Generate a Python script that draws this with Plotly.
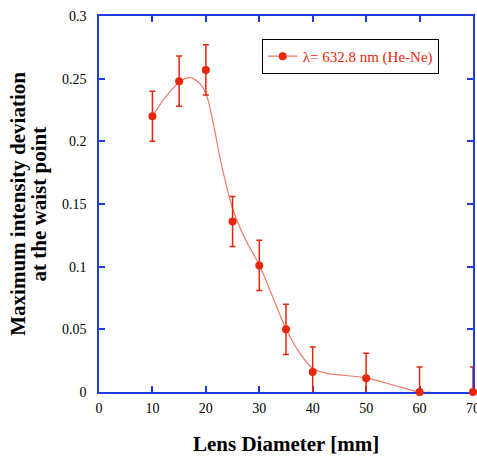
import plotly.graph_objects as go

# Measured data (lens diameter in mm, max intensity deviation)
diameter = [10, 15, 20, 25, 30, 35, 40, 50, 60, 70]
deviation = [0.220, 0.248, 0.257, 0.136, 0.101, 0.050, 0.016, 0.011, 0.0, 0.0]
error = [0.02, 0.02, 0.02, 0.02, 0.02, 0.02, 0.02, 0.02, 0.02, 0.02]

# Smooth fit curve
curve_x = [10, 12.6, 15.1, 17.0, 18.9, 20.1, 21.4, 22.6, 23.9, 25.1, 27.3, 30.1,
           32.6, 35.1, 37.6, 40.0, 42.6, 45.0, 50.0, 55.0, 60.0, 62.0]
curve_y = [0.220, 0.236, 0.2476, 0.2508, 0.246, 0.237, 0.2144, 0.1877, 0.1638,
           0.1452, 0.1226, 0.1005, 0.0748, 0.0495, 0.031, 0.019, 0.0149, 0.0136,
           0.0112, 0.0056, 0.0, 0.0]

legend_label = "λ= 632.8 nm (He-Ne)"
x_title = "Lens Diameter [mm]"
y_title_lines = ["Maximum intensity deviation", "at the waist point"]

RED = "rgb(232,38,10)"
LINE = "rgb(242,120,100)"
BLUE = "rgb(30,60,225)"
FONT = "Liberation Serif"

fig = go.Figure()
fig.add_trace(go.Scatter(x=curve_x, y=curve_y, mode="lines",
                         line=dict(color=LINE, width=1.2, shape="spline"),
                         showlegend=False, hoverinfo="skip"))
fig.add_trace(go.Scatter(x=diameter, y=deviation, mode="markers",
                         marker=dict(color=RED, size=8),
                         error_y=dict(type="data", array=error, color=RED,
                                      thickness=1.5, width=3),
                         cliponaxis=False, showlegend=False))
fig.add_trace(go.Scatter(x=[None], y=[None], mode="lines+markers",
                         name=legend_label,
                         line=dict(color=LINE, width=1.2),
                         marker=dict(color=RED, size=8)))

axis_common = dict(showline=True, linecolor=BLUE, linewidth=1.5, mirror="ticks",
                   ticks="inside", tickcolor=BLUE, tickwidth=1.5, ticklen=6,
                   showgrid=False, zeroline=False, layer="below traces",
                   automargin=False, ticklabeloverflow="allow",
                   tickfont=dict(family=FONT, size=14, color="black"))

fig.update_xaxes(range=[0, 70], dtick=10, ticklabelstandoff=2, **axis_common)
fig.update_yaxes(range=[0, 0.3], dtick=0.05, ticklabelstandoff=8, **axis_common)

fig.add_annotation(text="<b>%s</b>" % x_title, xref="paper", yref="paper",
                   x=0.5, y=-0.1383, xanchor="center", yanchor="middle",
                   showarrow=False,
                   font=dict(family=FONT, size=21, color="black"))
for line_text, xpos in zip(y_title_lines, [-0.2163, -0.161]):
    fig.add_annotation(text="<b>%s</b>" % line_text, xref="paper", yref="paper",
                       x=xpos, y=0.501, xanchor="center", yanchor="middle",
                       textangle=-90, showarrow=False,
                       font=dict(family=FONT, size=21, color="black"))

fig.update_layout(
    width=477, height=456,
    margin=dict(l=99, r=3.5, t=16, b=64),
    plot_bgcolor="white", paper_bgcolor="white",
    legend=dict(x=0.435, y=0.939, xanchor="left", yanchor="top",
                bordercolor="black", borderwidth=1, bgcolor="white",
                font=dict(family=FONT, size=15, color=RED), itemwidth=30),
)

fig.write_html("out.html",
               config={"displayModeBar": False},
               post_script="document.body.style.margin='0';"
                           "document.body.style.overflow='hidden';")
